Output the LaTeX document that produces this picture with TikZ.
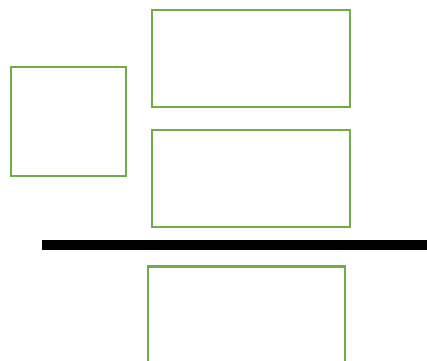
\documentclass[tikz,border=0pt]{standalone}
\usepackage{tikz}
\usetikzlibrary{positioning}
\definecolor{leafgreen}{RGB}{112,173,71}
\tikzset{box/.style={draw=leafgreen, line width=0.6pt, inner sep=0pt, outer sep=0pt}}

\begin{document}
\begin{tikzpicture}[x=0.01cm, y=-0.01cm]
        \clip (0, 0) rectangle (427, 360); %
        \useasboundingbox (0, 0) rectangle (427, 360); %
        \node[box, minimum width=1.15cm, minimum height=1.09cm] (side) at (68.5, 121.5) {}; %
        \node[box, minimum width=1.98cm, minimum height=0.97cm] (upper) at (251, 58.5) {}; %
        \node[box, minimum width=1.98cm, minimum height=0.97cm] (middle) at (251, 178.5) {}; %
        \node[box, minimum width=1.97cm, minimum height=0.97cm] (lower) at (246.5, 315) {}; %
        \coordinate (barL) at (42, 245); %
        \coordinate (barR) at (430, 245); %
        \draw[line width=2.9pt] (barL) -- (barR); %
      \end{tikzpicture}
\end{document}
